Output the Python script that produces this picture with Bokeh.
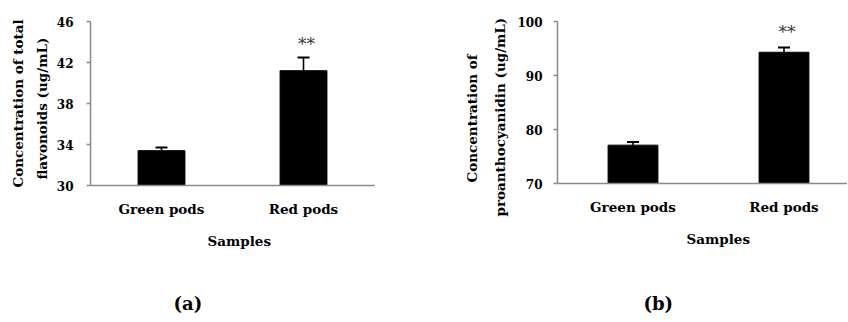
from bokeh.plotting import figure
from bokeh.models import Range1d, FixedTicker, Label, Whisker, TeeHead, ColumnDataSource, Title
from bokeh.layouts import row
from bokeh.embed import file_html
from bokeh.resources import INLINE

# ---------------- data ----------------
categories = ["Green pods", "Red pods"]

flav_values = [33.4, 41.2]
flav_errors = [0.3, 1.3]
flav_ticks = [30, 34, 38, 42, 46]

proa_values = [77.1, 94.3]
proa_errors = [0.6, 0.9]
proa_ticks = [70, 80, 90, 100]

significance = ["", "**"]

FONT = "DejaVu Serif"
AXIS_GRAY = "#8a8a8a"


def make_panel(values, errors, ticks, ylabel_lines, letter,
               frame_w, frame_h, border_left, border_right, border_top, border_bottom,
               x_end, tick_standoff, ylab_standoffs, ylab_offsets,
               samples_standoff, samples_offset, letter_standoff, letter_offset, star_offset):
    xs = [i + 0.5 for i in range(len(categories))]
    ups = [v + e for v, e in zip(values, errors)]
    src = ColumnDataSource(dict(x=xs, top=values, up=ups))
    y0, y1 = ticks[0], ticks[-1]

    p = figure(frame_width=frame_w, frame_height=frame_h, output_backend="svg",
               toolbar_location=None, tools="",
               x_range=Range1d(0, x_end), y_range=Range1d(y0, y1),
               min_border_left=border_left, min_border_right=border_right,
               min_border_top=border_top, min_border_bottom=border_bottom)
    p.outline_line_color = None
    p.grid.visible = False
    p.background_fill_color = "white"
    p.border_fill_color = "white"

    p.vbar(x="x", top="top", bottom=y0, width=0.33, source=src,
           fill_color="black", line_color="black")

    p.add_layout(Whisker(base="x", lower="top", upper="up", source=src, dimension="height",
                         line_color="black", line_width=1.6,
                         upper_head=TeeHead(size=12, line_color="black", line_width=2),
                         lower_head=None))

    for xi, u, s in zip(xs, ups, significance):
        if s:
            p.add_layout(Label(x=xi, y=u, text=s, x_offset=star_offset[0], y_offset=star_offset[1],
                               text_font=FONT, text_font_size="17px", text_color="#333333",
                               text_align="center", text_baseline="middle"))

    # y axis
    p.yaxis.ticker = FixedTicker(ticks=ticks)
    p.yaxis.minor_tick_line_color = None
    p.yaxis.major_tick_out = 4
    p.yaxis.major_tick_in = 0
    p.yaxis.major_tick_line_color = AXIS_GRAY
    p.yaxis.major_tick_line_width = 1.5
    p.yaxis.axis_line_color = AXIS_GRAY
    p.yaxis.axis_line_width = 1.5
    p.yaxis.major_label_text_font = FONT
    p.yaxis.major_label_text_font_style = "bold"
    p.yaxis.major_label_text_font_size = "12px"
    p.yaxis.major_label_text_color = "black"
    p.yaxis.major_label_standoff = tick_standoff

    # x axis
    p.xaxis.ticker = FixedTicker(ticks=xs)
    p.xaxis.major_label_overrides = {x: c for x, c in zip(xs, categories)}
    p.xaxis.minor_tick_line_color = None
    p.xaxis.major_tick_line_color = None
    p.xaxis.major_tick_out = 0
    p.xaxis.major_tick_in = 0
    p.xaxis.axis_line_color = AXIS_GRAY
    p.xaxis.axis_line_width = 1.5
    p.xaxis.major_label_text_font = FONT
    p.xaxis.major_label_text_font_style = "bold"
    p.xaxis.major_label_text_font_size = "13.5px"
    p.xaxis.major_label_text_color = "black"
    p.xaxis.major_label_standoff = 15

    # y-axis title, two lines (inner line first)
    for line, so, off in zip(reversed(ylabel_lines), reversed(ylab_standoffs), reversed(ylab_offsets)):
        p.add_layout(Title(text=line, align="left", offset=off, standoff=so,
                           text_font=FONT, text_font_style="bold", text_font_size="13.5px",
                           text_color="black"), "left")

    # x-axis title
    p.add_layout(Title(text="Samples", align="left", offset=samples_offset,
                       standoff=samples_standoff, text_font=FONT, text_font_style="bold",
                       text_font_size="13.5px", text_color="black"), "below")

    # panel letter
    p.add_layout(Title(text="(" + letter + ")", align="left", offset=letter_offset,
                       standoff=letter_standoff, text_font=FONT, text_font_style="bold",
                       text_font_size="18px", text_color="black"), "below")
    return p


pa = make_panel(flav_values, flav_errors, flav_ticks,
                ["Concentration of total", "flavonoids (ug/mL)"], "a",
                frame_w=284, frame_h=164, border_left=90, border_right=50,
                border_top=21, border_bottom=134, x_end=2.0, tick_standoff=13,
                ylab_standoffs=[3, 8], ylab_offsets=[-2, 6],
                samples_standoff=22, samples_offset=117,
                letter_standoff=62, letter_offset=83, star_offset=(3, 13))

pb = make_panel(proa_values, proa_errors, proa_ticks,
                ["Concentration of", "proanthocyanidin (ug/mL)"], "b",
                frame_w=290, frame_h=162, border_left=133, border_right=0,
                border_top=21, border_bottom=136, x_end=290 / 151, tick_standoff=11,
                ylab_standoffs=[6, 14], ylab_offsets=[1, -33],
                samples_standoff=23, samples_offset=129,
                letter_standoff=64, letter_offset=86, star_offset=(3, 15))

layout = row(pa, pb)
open("out.html", "w").write(file_html(layout, INLINE))
